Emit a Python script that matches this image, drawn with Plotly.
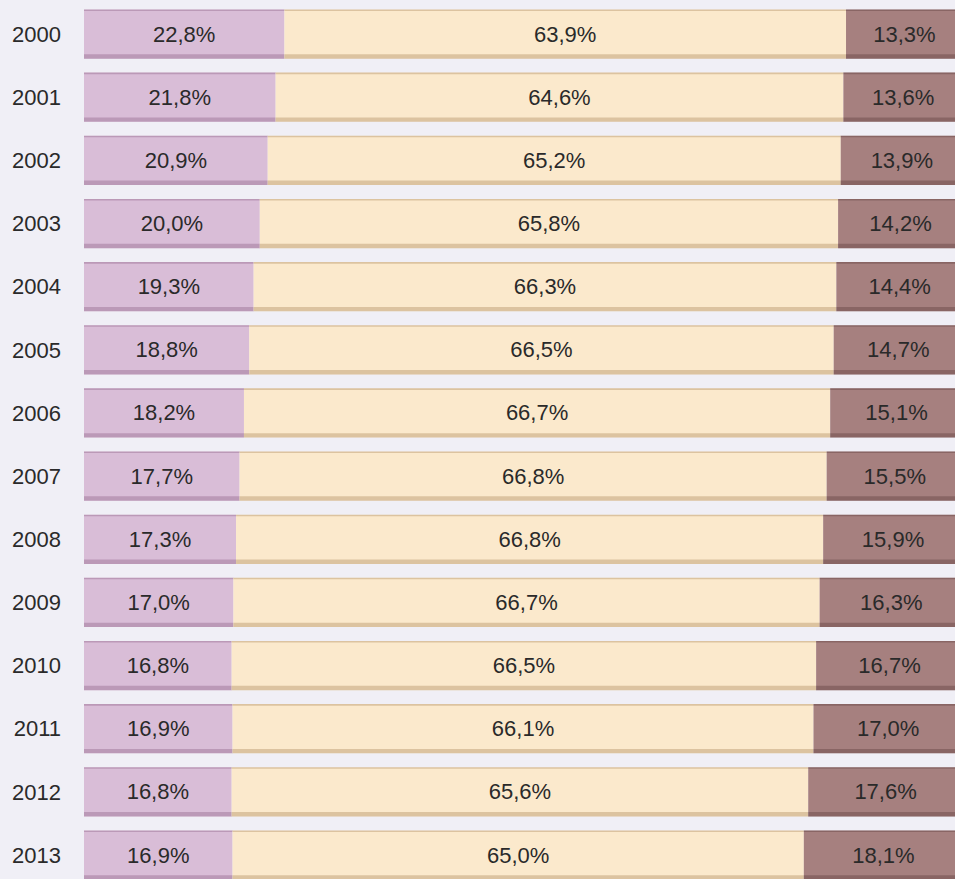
import plotly.graph_objects as go

years = [str(y) for y in range(2000, 2014)]
share_young = [22.8, 21.8, 20.9, 20.0, 19.3, 18.8, 18.2, 17.7, 17.3, 17.0, 16.8, 16.9, 16.8, 16.9]
share_working = [63.9, 64.6, 65.2, 65.8, 66.3, 66.5, 66.7, 66.8, 66.8, 66.7, 66.5, 66.1, 65.6, 65.0]
share_old = [13.3, 13.6, 13.9, 14.2, 14.4, 14.7, 15.1, 15.5, 15.9, 16.3, 16.7, 17.0, 17.6, 18.1]

FONT = "Liberation Sans, Arial, sans-serif"
BAR_W = 0.78

series = [
    (share_young, "#D9BDD7", "rgba(120,70,110,0.30)"),
    (share_working, "#FBE9CC", "rgba(150,110,60,0.30)"),
    (share_old, "#A6807F", "rgba(70,40,40,0.30)"),
]

fig = go.Figure()
base = [0.0] * len(years)
for values, fill, shade in series:
    # main segment
    fig.add_trace(go.Bar(
        y=years, x=values, base=base, orientation="h",
        width=BAR_W, offset=-BAR_W / 2,
        marker=dict(color=fill, line=dict(width=0)),
        texttemplate="%{x:.1f}%",
        textposition="inside",
        insidetextanchor="middle",
        textangle=0,
        textfont=dict(size=22, color="#2a2a2a", family=FONT),
        hoverinfo="skip",
    ))
    # darker bottom band (bevel)
    fig.add_trace(go.Bar(
        y=years, x=values, base=base, orientation="h",
        width=0.07, offset=BAR_W / 2 - 0.07,
        marker=dict(color=shade, line=dict(width=0)),
        hoverinfo="skip",
    ))
    # thin top edge
    fig.add_trace(go.Bar(
        y=years, x=values, base=base, orientation="h",
        width=0.025, offset=-BAR_W / 2,
        marker=dict(color=shade, line=dict(width=0)),
        hoverinfo="skip",
    ))
    base = [b + v for b, v in zip(base, values)]

fig.update_layout(
    barmode="overlay",
    width=955,
    height=879,
    showlegend=False,
    separators=",.",
    paper_bgcolor="#F0EFF6",
    plot_bgcolor="#F0EFF6",
    margin=dict(l=84, r=0, t=0, b=0),
    font=dict(family=FONT, size=22, color="#2a2a2a"),
    uniformtext=dict(minsize=22, mode="show"),
    xaxis=dict(range=[0, 99.1], visible=False, fixedrange=True),
    yaxis=dict(
        range=[13.38, -0.54],
        showgrid=False,
        zeroline=False,
        showline=False,
        ticks="",
        ticklabelstandoff=22,
        tickfont=dict(size=22, family=FONT),
        fixedrange=True,
    ),
)

fig.write_html(
    "out.html",
    config={"displayModeBar": False},
    post_script="document.body.style.margin='0';",
)
